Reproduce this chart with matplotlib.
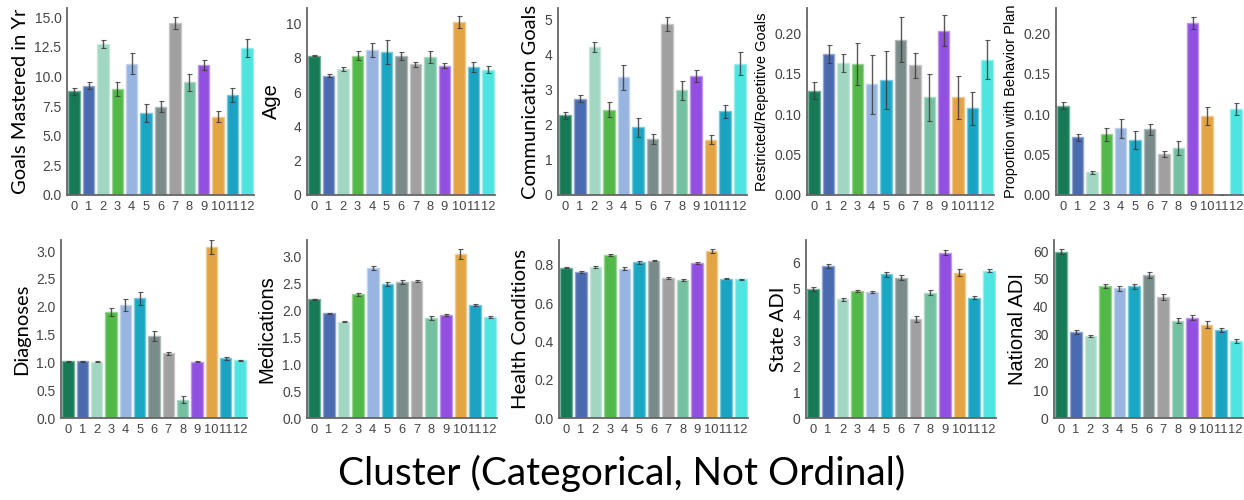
import numpy as np
from matplotlib import pyplot as plt
from matplotlib import colors as mcolors

clusters = [str(i) for i in range(13)]

bar_colors = ['#167a57', '#4a6baf', '#a0d6c2', '#52b848', '#98b4e0', '#1aa7c4', '#7a8c8a',
              '#a0a0a0', '#74c1a2', '#9150e0', '#e3a444', '#1aa3c2', '#4ee5e0']

goals_mastered = [8.73, 9.2, 12.76, 8.96, 11.07, 6.9, 7.46, 14.54, 9.5, 10.96, 6.62, 8.45, 12.4]
goals_mastered_err = [0.3, 0.3, 0.35, 0.6, 0.9, 0.75, 0.45, 0.5, 0.7, 0.42, 0.5, 0.6, 0.73]

age = [8.13, 6.96, 7.35, 8.13, 8.44, 8.34, 8.09, 7.62, 8.03, 7.54, 10.08, 7.47, 7.31]
age_err = [0.05, 0.1, 0.1, 0.28, 0.4, 0.68, 0.25, 0.15, 0.35, 0.15, 0.33, 0.28, 0.2]

comm_goals = [2.27, 2.75, 4.22, 2.43, 3.35, 1.93, 1.59, 4.87, 2.98, 3.4, 1.57, 2.38, 3.74]
comm_goals_err = [0.09, 0.09, 0.15, 0.22, 0.36, 0.27, 0.14, 0.2, 0.28, 0.17, 0.13, 0.19, 0.33]

rrb_goals = [0.129, 0.1745, 0.163, 0.162, 0.1365, 0.142, 0.192, 0.16, 0.121, 0.203, 0.1205, 0.107, 0.167]
rrb_goals_err = [0.01, 0.011, 0.011, 0.026, 0.036, 0.036, 0.028, 0.016, 0.029, 0.019, 0.026, 0.02, 0.024]

behavior_plan = [0.1105, 0.0713, 0.028, 0.075, 0.0825, 0.0676, 0.0812, 0.0507, 0.0585, 0.2124, 0.0977, 0.0, 0.1064]
behavior_plan_err = [0.004, 0.004, 0.002, 0.008, 0.012, 0.011, 0.007, 0.0035, 0.0085, 0.007, 0.011, 0.0, 0.0075]

diagnoses = [1.02, 1.02, 1.01, 1.91, 2.03, 2.15, 1.48, 1.16, 0.33, 1.01, 3.07, 1.07, 1.04]
diagnoses_err = [0.01, 0.01, 0.01, 0.075, 0.11, 0.12, 0.09, 0.02, 0.065, 0.01, 0.13, 0.02, 0.01]

medications = [2.21, 1.95, 1.79, 2.3, 2.79, 2.49, 2.53, 2.55, 1.86, 1.92, 3.05, 2.1, 1.88]
medications_err = [0.01, 0.01, 0.01, 0.03, 0.04, 0.04, 0.04, 0.02, 0.03, 0.02, 0.09, 0.015, 0.02]

health_cond = [0.784, 0.761, 0.789, 0.851, 0.78, 0.813, 0.822, 0.731, 0.72, 0.808, 0.871, 0.728, 0.723]
health_cond_err = [0.003, 0.004, 0.004, 0.004, 0.008, 0.007, 0.005, 0.003, 0.006, 0.004, 0.01, 0.004, 0.005]

state_adi = [4.99, 5.875, 4.6, 4.9, 4.87, 5.56, 5.43, 3.83, 4.85, 6.4, 5.63, 4.66, 5.7]
state_adi_err = [0.07, 0.07, 0.06, 0.04, 0.05, 0.1, 0.1, 0.1, 0.1, 0.1, 0.13, 0.05, 0.06]

national_adi = [59.8, 30.8, 29.5, 47.5, 46.6, 47.3, 51.5, 43.5, 35.0, 36.1, 33.6, 31.6, 27.6]
national_adi_err = [0.8, 0.7, 0.5, 0.8, 0.8, 1.0, 1.0, 1.1, 1.0, 0.9, 1.3, 0.7, 0.7]

serif_label = 'Lato'
plain_label = 'Liberation Sans'
panels = [
    ('Goals Mastered in Yr', goals_mastered, goals_mastered_err, 15.77, [0, 2.5, 5, 7.5, 10, 12.5, 15], '{:.1f}', 14.5, serif_label),
    ('Age', age, age_err, 10.9, [0, 2, 4, 6, 8, 10], '{:.0f}', 14.5, plain_label),
    ('Communication Goals', comm_goals, comm_goals_err, 5.33, [0, 1, 2, 3, 4, 5], '{:.0f}', 14.5, serif_label),
    ('Restricted/Repetitive Goals', rrb_goals, rrb_goals_err, 0.231, [0, 0.05, 0.1, 0.15, 0.2], '{:.2f}', 10.5, plain_label),
    ('Proportion with Behavior Plan', behavior_plan, behavior_plan_err, 0.231, [0, 0.05, 0.1, 0.15, 0.2], '{:.2f}', 10.5, plain_label),
    ('Diagnoses', diagnoses, diagnoses_err, 3.2, [0, 0.5, 1, 1.5, 2, 2.5, 3], '{:.1f}', 14.5, serif_label),
    ('Medications', medications, medications_err, 3.31, [0, 0.5, 1, 1.5, 2, 2.5, 3], '{:.1f}', 14.5, plain_label),
    ('Health Conditions', health_cond, health_cond_err, 0.929, [0, 0.2, 0.4, 0.6, 0.8], '{:.1f}', 14.5, serif_label),
    ('State ADI', state_adi, state_adi_err, 6.89, [0, 1, 2, 3, 4, 5, 6], '{:.0f}', 14.5, serif_label),
    ('National ADI', national_adi, national_adi_err, 64, [0, 10, 20, 30, 40, 50, 60], '{:.0f}', 14.5, plain_label),
]

# axes boxes in pixels (left, right, top, bottom)
boxes = [(67, 254, 8, 195), (307, 495, 8, 195), (558, 747, 8, 195), (807, 994, 8, 195), (1056, 1243, 8, 195),
         (61, 247, 240, 418), (307, 497, 240, 418), (559, 748, 240, 418), (806, 996, 240, 418), (1054, 1243, 240, 418)]

W, H = 1244, 500
fig = plt.figure(figsize=(W / 100, H / 100), dpi=100)

edge_colors = []
for c in bar_colors:
    rgb = np.array(mcolors.to_rgb(c))
    edge_colors.append(tuple(rgb + (1 - rgb) * 0.4))

x = np.arange(len(clusters))
for (label, vals, errs, ytop, yticks, fmt, lsize, lfam), (l, r, t, b) in zip(panels, boxes):
    ax = fig.add_axes([l / W, 1 - b / H, (r - l) / W, (b - t) / H])
    ax.bar(x, vals, width=0.8, color=bar_colors, edgecolor=edge_colors, linewidth=1)
    ax.errorbar(x, vals, yerr=errs, fmt='none', ecolor='#3c3c3c', elinewidth=1, capsize=1.8, capthick=0.8, alpha=0.85)
    ax.set_xlim(-0.5, 12.5)
    ax.set_ylim(0, ytop)
    ax.set_xticks(x)
    ax.set_xticklabels(clusters, fontsize=9.3, color='#444444', family='Liberation Sans')
    ax.set_yticks(yticks)
    ax.set_yticklabels([fmt.format(v) for v in yticks], fontsize=10, color='#444444', family='Liberation Sans')
    ax.tick_params(length=0, pad=4)
    ax.set_ylabel(label, fontsize=lsize, family=lfam, labelpad=4)
    for s in ['top', 'right']:
        ax.spines[s].set_visible(False)
    for s in ['left', 'bottom']:
        ax.spines[s].set_color('#666666')
        ax.spines[s].set_linewidth(1.3)

fig.text(0.5, 0.054, 'Cluster (Categorical, Not Ordinal)', ha='center', va='center', fontsize=28, family='Lato')

fig.savefig('out.png', dpi=100)
